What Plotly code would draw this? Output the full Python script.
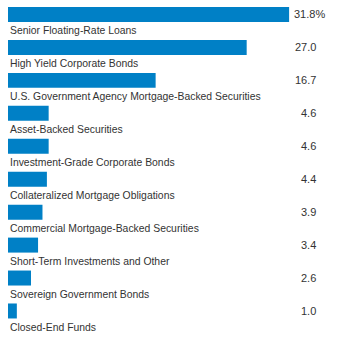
import plotly.graph_objects as go

categories = [
    "Senior Floating-Rate Loans",
    "High Yield Corporate Bonds",
    "U.S. Government Agency Mortgage-Backed Securities",
    "Asset-Backed Securities",
    "Investment-Grade Corporate Bonds",
    "Collateralized Mortgage Obligations",
    "Commercial Mortgage-Backed Securities",
    "Short-Term Investments and Other",
    "Sovereign Government Bonds",
    "Closed-End Funds",
]
values = [31.8, 27.0, 16.7, 4.6, 4.6, 4.4, 3.9, 3.4, 2.6, 1.0]

BAR_COLOR = "#0080C6"
TEXT_COLOR = "#333333"
FONT = "Liberation Sans"

W, H = 337, 337
ML, MR = 8, 0
plot_w = W - ML - MR
px_per_unit = 8.84
x_max = plot_w / px_per_unit

fig = go.Figure(
    go.Bar(
        x=values,
        y=categories,
        orientation="h",
        marker=dict(color=BAR_COLOR, line=dict(width=0)),
        width=0.455,
        hoverinfo="skip",
    )
)

annotations = []
value_right_px = 318 - ML
for i, (cat, v) in enumerate(zip(categories, values)):
    # category name sits just below its bar
    annotations.append(dict(
        x=0, xref="paper", y=cat, yref="y",
        text=cat, showarrow=False,
        xanchor="left", yanchor="middle",
        xshift=0, yshift=-16.5,
        font=dict(family=FONT, size=10.4, color=TEXT_COLOR),
    ))
    # value at the right, numbers right-aligned; percent sign hangs past
    label = f"{v:.1f}" + ("%" if i == 0 else "")
    annotations.append(dict(
        x=value_right_px / plot_w, xref="paper", y=cat, yref="y",
        text=label, showarrow=False,
        xanchor="right", yanchor="middle",
        xshift=(9 if i == 0 else 0),
        font=dict(family=FONT, size=11, color=TEXT_COLOR),
    ))

fig.update_layout(
    width=W, height=H,
    margin=dict(l=ML, r=MR, t=0, b=0, pad=0),
    paper_bgcolor="white", plot_bgcolor="white",
    showlegend=False,
    xaxis=dict(range=[0, x_max], visible=False, fixedrange=True),
    yaxis=dict(
        categoryorder="array", categoryarray=categories,
        range=[9.79, -0.44], visible=False, fixedrange=True,
    ),
    annotations=annotations,
)

fig.write_html("out.html")
